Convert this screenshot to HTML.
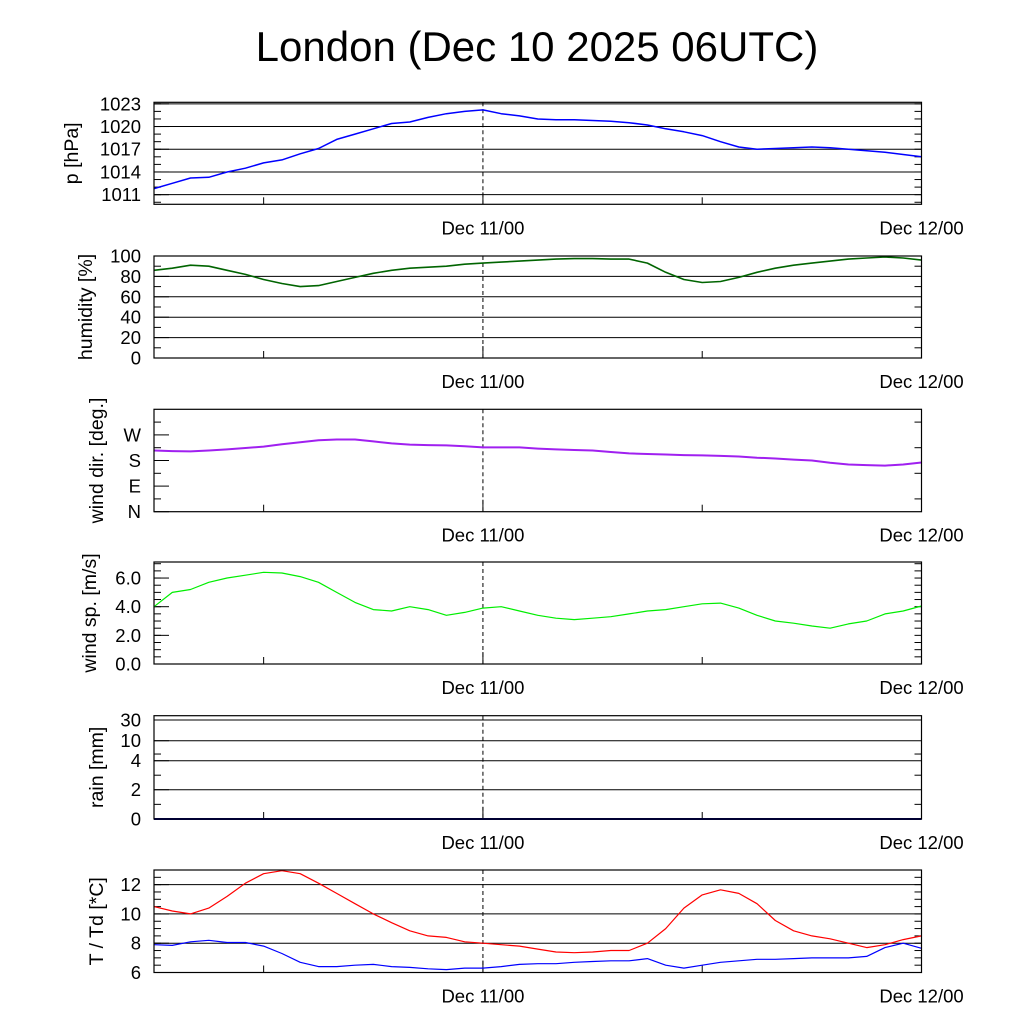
<!DOCTYPE html>
<html><head><meta charset="utf-8">
<style>
html,body{margin:0;padding:0;background:#fff;}
svg{display:block;font-family:"Liberation Sans",sans-serif;}
</style></head>
<body>
<svg id="chart" width="1024" height="1024" viewBox="0 0 1024 1024" xmlns="http://www.w3.org/2000/svg">
<rect width="1024" height="1024" fill="#fff"/>
<text x="537" y="61" font-size="42" text-anchor="middle">London (Dec 10 2025 06UTC)</text>
</svg>
<script>
// hours since Dec 10 06UTC
const hours = Array.from({length:43},(_,i)=>i);
const xTickLabels = ["Dec 11/00","Dec 12/00"];
const xTickHours = [18,42];
const xMinorHours = [6,30];
const pressure = [1011.8,1012.5,1013.2,1013.3,1014.0,1014.5,1015.2,1015.6,1016.4,1017.1,1018.3,1019.0,1019.7,1020.4,1020.6,1021.2,1021.7,1022.0,1022.2,1021.7,1021.4,1021.0,1020.9,1020.9,1020.8,1020.7,1020.5,1020.2,1019.7,1019.3,1018.8,1018.0,1017.3,1017.0,1017.1,1017.2,1017.3,1017.2,1017.0,1016.8,1016.6,1016.3,1016.0];
const humidity = [86,88,91,90,86,82,77,73,70,71,75,79,83,86,88,89,90,92,93,94,95,96,97,97.5,97.5,97,97,93,84,77,74,75,79,84,88,91,93,95,97,98,99,98,96];
const windDir = [215,213,212,215,219,224,229,237,244,251,254,254,247,240,236,234,233,230,226,226,226,222,219,217,215,210,205,203,201,199,198,196,194,190,187,183,180,172,166,164,162,166,173];
const windSpeed = [4.0,5.0,5.2,5.7,6.0,6.2,6.4,6.35,6.1,5.7,5.0,4.3,3.8,3.7,4.0,3.8,3.4,3.6,3.9,4.0,3.7,3.4,3.2,3.1,3.2,3.3,3.5,3.7,3.8,4.0,4.2,4.25,3.9,3.4,3.0,2.85,2.65,2.5,2.8,3.0,3.5,3.7,4.05];
const rain = Array.from({length:43},()=>0);
const temperature = [10.5,10.2,10.0,10.4,11.2,12.1,12.75,12.95,12.75,12.1,11.4,10.7,10.0,9.4,8.85,8.5,8.4,8.1,8.0,7.9,7.8,7.6,7.4,7.35,7.4,7.5,7.5,8.0,9.0,10.4,11.3,11.65,11.4,10.7,9.55,8.85,8.5,8.3,8.0,7.7,7.9,8.25,8.5];
const dewpoint = [7.9,7.85,8.1,8.2,8.05,8.05,7.8,7.3,6.7,6.4,6.4,6.5,6.55,6.4,6.35,6.25,6.2,6.3,6.3,6.4,6.55,6.6,6.6,6.7,6.75,6.8,6.8,6.95,6.5,6.3,6.5,6.7,6.8,6.9,6.9,6.95,7.0,7.0,7.0,7.1,7.7,8.0,7.65];
const pTicks = [1011,1014,1017,1020,1023];
const hTicks = [0,20,40,60,80,100];
const dTicks = [0,90,180,270]; const dLabels = ["N","E","S","W"];
const sTicks = [0,2,4,6]; const sLabels = ["0.0","2.0","4.0","6.0"];
const rTicks = [0,2,4,10,30];
const tTicks = [6,8,10,12];

const NS="http://www.w3.org/2000/svg";
const svg=document.getElementById('chart');
const X0=154,X1=921.5,H0=0,H1=42;
const xs=h=>X0+(h-H0)/(H1-H0)*(X1-X0);
function el(tag,attrs,parent){const e=document.createElementNS(NS,tag);for(const k in attrs)e.setAttribute(k,attrs[k]);(parent||svg).appendChild(e);return e;}

function panel(cfg){
  const g=el('g',{});
  
  
  const top=cfg.top,bot=cfg.bot;
  const ys=cfg.ys;
  (cfg.grid||[]).forEach(v=>{const l=el('line',{x1:X0,x2:X1,y1:ys(v),y2:ys(v),stroke:'#000','stroke-width':1},g);
    
    });
  (cfg.minor||[]).forEach(v=>{const y=ys(v);
    [[X0,X0+7],[X1-7,X1]].forEach(p=>{const t=el('line',{x1:p[0],x2:p[1],y1:y,y2:y,stroke:'#000','stroke-width':1},g);
    
    });});
  cfg.ticks.forEach((v,i)=>{const y=ys(v);
    const t=el('line',{x1:X0,x2:X0+15,y1:y,y2:y,stroke:'#000','stroke-width':1},g);
    
    
    const tx=el('text',{x:X0-13,y:y+6.5,'font-size':18.5,'text-anchor':'end'},g);
    tx.textContent=cfg.labels?cfg.labels[i]:String(v);
    
    });
  const d=el('line',{x1:xs(18),x2:xs(18),y1:top,y2:bot,stroke:'#000','stroke-width':1,'stroke-dasharray':'4,3'},g);
  
  
  xMinorHours.forEach(h=>{const t=el('line',{x1:xs(h),x2:xs(h),y1:bot,y2:bot-7,stroke:'#000'},g);
    
    });
  xTickHours.forEach((h,i)=>{const t=el('line',{x1:xs(h),x2:xs(h),y1:bot,y2:bot-12,stroke:'#000'},g);
    
    
    const tx=el('text',{x:xs(h),y:bot+30,'font-size':18.5,'text-anchor':'middle'},g);
    tx.textContent=xTickLabels[i];
    
    });
  cfg.series.forEach(s=>{const pts=hours.map((h,i)=>xs(h).toFixed(1)+','+ys(s.data[i]).toFixed(1)).join(' ');
    const p=el('polyline',{points:pts,fill:'none',stroke:s.color,'stroke-width':s.w||1.3,'stroke-linejoin':'round'},g);
    
    });
  const f=el('rect',{x:X0,y:top,width:X1-X0,height:bot-top,fill:'none',stroke:'#000','stroke-width':1.2},g);
  
  
  const yt=el('text',{x:0,y:0,'font-size':19.5,'text-anchor':'middle',transform:`translate(${cfg.tx},${(top+bot)/2}) rotate(-90)`},g);
  yt.textContent=cfg.title;
  
  
}
function lin(top,bot,vmin,vmax){return v=>bot-(v-vmin)/(vmax-vmin)*(bot-top);}
function range(a,b,s){const r=[];for(let v=a;v<=b+1e-9;v+=s)r.push(v);return r;}

panel({name:'pressure',top:102.3,bot:204.3,ys:lin(102.3,204.3,1009.73,1023.2),ticks:pTicks,grid:pTicks,minor:range(1010,1023,1),title:'p [hPa]',tx:78,
  series:[{name:'pressure-line',data:pressure,color:'#0000ff',w:1.5}]});
panel({name:'humidity',top:256,bot:358,ys:lin(256,358,0,100),ticks:hTicks,grid:hTicks,minor:range(10,90,20),title:'humidity [%]',tx:92,
  series:[{name:'humidity-line',data:humidity,color:'#006400',w:1.6}]});
panel({name:'wind-direction',top:409.3,bot:511.7,ys:lin(409.3,511.7,0,360),ticks:dTicks,labels:dLabels,minor:range(45,315,90),title:'wind dir. [deg.]',tx:103,
  series:[{name:'wind-direction-line',data:windDir,color:'#a020f0',w:2}]});
panel({name:'wind-speed',top:562,bot:664,ys:lin(562,664,0,7.12),ticks:sTicks,labels:sLabels,minor:range(0.5,7,0.5),title:'wind sp. [m/s]',tx:96,
  series:[{name:'wind-speed-line',data:windSpeed,color:'#00ee00',w:1.2}]});
const rv=[0,2,4,10,30,35],ry=[819,789.7,760.7,740.7,720,715.7];
function rys(v){for(let i=0;i<rv.length-1;i++){if(v<=rv[i+1]){return ry[i]+(v-rv[i])/(rv[i+1]-rv[i])*(ry[i+1]-ry[i]);}}return ry[ry.length-1];}
panel({name:'rain',top:715.7,bot:819,ys:rys,ticks:rTicks,grid:rTicks,minor:[1,3,6],title:'rain [mm]',tx:103,
  series:[{name:'rain-line',data:rain,color:'#000080',w:2}]});
panel({name:'temperature',top:870,bot:972.5,ys:lin(870,972.5,6,13),ticks:tTicks,grid:tTicks,minor:range(6.5,12.5,0.5),title:'T / Td [*C]',tx:103,
  series:[{name:'temperature-line',data:temperature,color:'#ff0000',w:1.2},{name:'dewpoint-line',data:dewpoint,color:'#0000ff',w:1.2}]});
</script>
</body></html>
